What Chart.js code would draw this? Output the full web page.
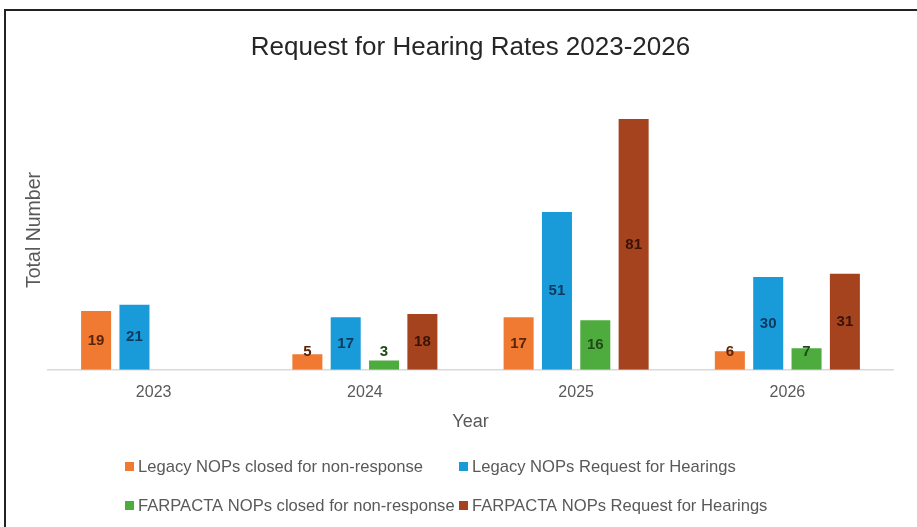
<!DOCTYPE html>
<html>
<head>
<meta charset="utf-8">
<script src="https://cdn.jsdelivr.net/npm/chart.js@4/dist/chart.umd.min.js"></script>
<style>
  body { margin: 0; background: #fff; }
  #wrap { width: 917px; height: 527px; position: relative; }
</style>
</head>
<body>
<div id="wrap"><canvas id="chart"></canvas></div>
<script>
const years = ["2023", "2024", "2025", "2026"];

const legacyClosed = [19, 5, 17, 6];
const legacyHearings = [21, 17, 51, 30];
const farpactaClosed = [null, 3, 16, 7];
const farpactaHearings = [null, 18, 81, 31];

const seriesNames = [
  "Legacy NOPs closed for non-response",
  "Legacy NOPs Request for Hearings",
  "FARPACTA NOPs closed for non-response",
  "FARPACTA NOPs Request for Hearings"
];
const barColors = ["#F07A32", "#1A9BD9", "#4EAC3E", "#A5431F"];
const labelColors = ["#5A2408", "#0B3A5C", "#1E4A16", "#3A1206"];

const FONT = "'Liberation Sans', Arial, sans-serif";

// value labels, centred in the bar but kept above the baseline for short bars
const barLabels = {
  id: "barLabels",
  afterDatasetsDraw(chart) {
    const ctx = chart.ctx;
    ctx.save();
    ctx.font = "bold 15px " + FONT;
    ctx.textAlign = "center";
    ctx.textBaseline = "middle";
    chart.data.datasets.forEach((ds, i) => {
      chart.getDatasetMeta(i).data.forEach((bar, j) => {
        const v = ds.data[j];
        if (v == null) return;
        const y = Math.min((bar.y + bar.base) / 2, bar.base - 18);
        ctx.fillStyle = labelColors[i];
        ctx.fillText(String(v), bar.x, y);
      });
    });
    ctx.restore();
  }
};

// axis titles, two-column legend and the frame lines
const extras = {
  id: "extras",
  afterDraw(chart) {
    const ctx = chart.ctx;
    const area = chart.chartArea;
    ctx.save();
    ctx.fillStyle = "#595959";
    ctx.textAlign = "center";
    ctx.textBaseline = "middle";
    ctx.font = "18px " + FONT;
    ctx.fillText("Year", (area.left + area.right) / 2, area.bottom + 52);
    ctx.font = "19.5px " + FONT;
    ctx.translate(35, 230);
    ctx.rotate(-Math.PI / 2);
    ctx.fillText("Total Number", 0, 0);
    ctx.restore();

    const cols = [125, 459];
    const rows = [466, 505];
    ctx.save();
    ctx.font = "16.6px " + FONT;
    ctx.textBaseline = "middle";
    ctx.textAlign = "left";
    chart.data.datasets.forEach((ds, i) => {
      const x = cols[i % 2];
      const y = rows[Math.floor(i / 2)];
      ctx.fillStyle = ds.backgroundColor;
      ctx.fillRect(x, y - 4, 9, 9);
      ctx.fillStyle = "#595959";
      ctx.fillText(ds.label, x + 13, y + 1);
    });
    ctx.restore();

    ctx.save();
    ctx.strokeStyle = "#222";
    ctx.lineWidth = 2;
    ctx.beginPath();
    ctx.moveTo(5, 527);
    ctx.lineTo(5, 10);
    ctx.lineTo(917, 10);
    ctx.stroke();
    ctx.restore();
  }
};

new Chart(document.getElementById("chart"), {
  type: "bar",
  data: {
    labels: years,
    datasets: [legacyClosed, legacyHearings, farpactaClosed, farpactaHearings].map((d, i) => ({
      label: seriesNames[i],
      data: d,
      backgroundColor: barColors[i],
      barPercentage: 0.783,
      categoryPercentage: 0.726
    }))
  },
  options: {
    responsive: true,
    maintainAspectRatio: false,
    animation: false,
    layout: { padding: { left: 48, right: 24, top: 0, bottom: 112 } },
    plugins: {
      legend: { display: false },
      tooltip: { enabled: false },
      title: {
        display: true,
        text: "Request for Hearing Rates 2023-2026",
        color: "#262626",
        font: { family: FONT, size: 26, weight: "normal" },
        padding: { top: 32, bottom: 28 }
      }
    },
    scales: {
      y: { display: false, min: 0, max: 90 },
      x: {
        grid: { display: false, drawTicks: false },
        border: { display: true, color: "#D9D9D9", width: 1.5 },
        ticks: { color: "#595959", font: { family: FONT, size: 16 }, padding: 13 }
      }
    }
  },
  plugins: [barLabels, extras]
});
</script>
</body>
</html>
